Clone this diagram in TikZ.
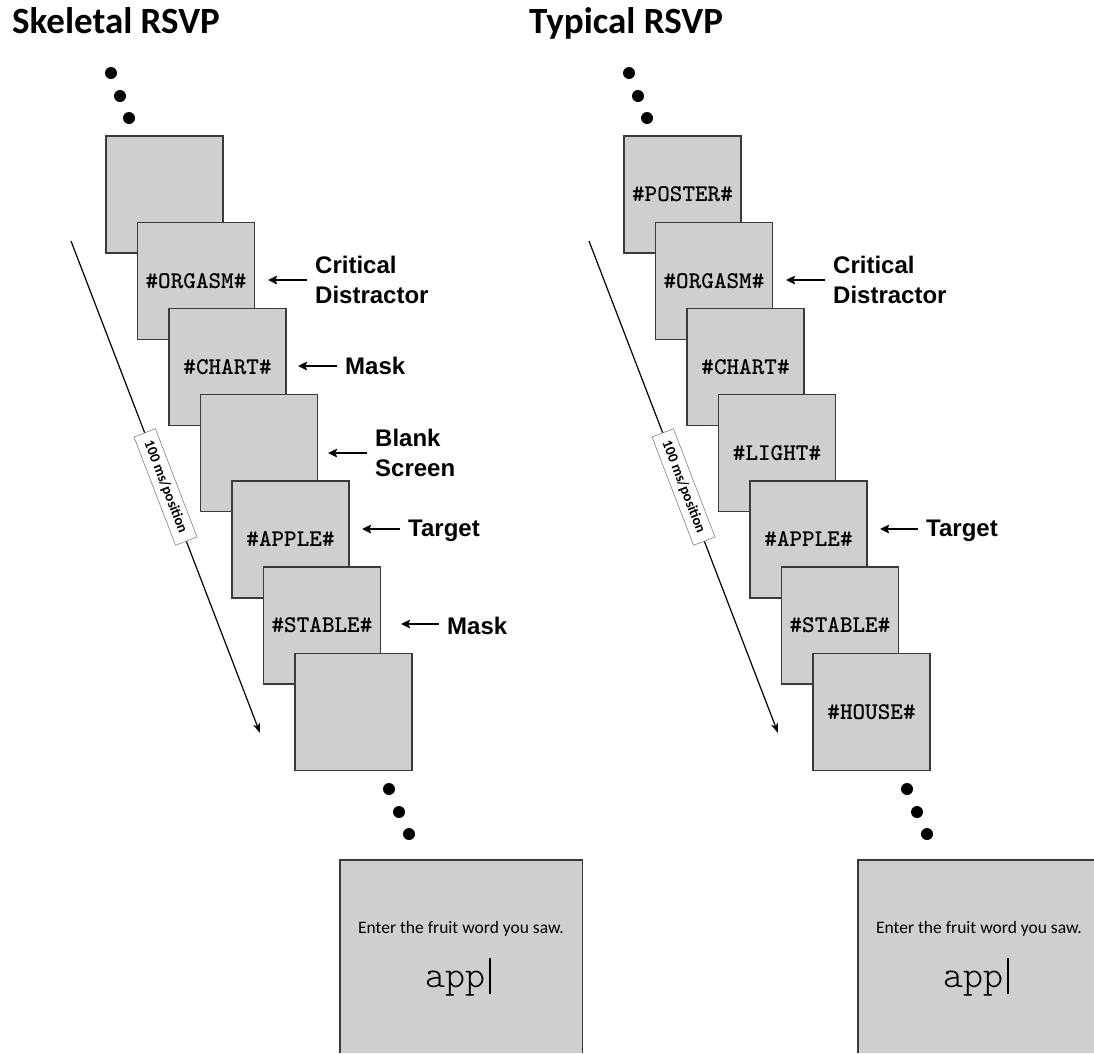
\documentclass[tikz,border=0pt]{standalone}
\usepackage{fontspec}
\setmainfont{Carlito}
\newfontfamily\labelfont{Liberation Sans}
\usetikzlibrary{arrows.meta}
\definecolor{screen}{HTML}{D0CECE}
\definecolor{edge}{HTML}{3A3A3A}

\begin{document}
\begin{tikzpicture}[x=1pt,y=-1pt,
  frame/.style={draw=edge, line width=1.4pt, fill=screen, minimum size=117pt,
    inner sep=0pt, font=\ttfamily\bfseries\fontsize{24}{24}\selectfont},
  cue/.style={anchor=west, inner sep=0pt, align=left,
    font=\labelfont\bfseries\fontsize{24}{29.5}\selectfont},
  ptr/.style={line width=2.2pt, -{Stealth[length=9pt,width=8.5pt,inset=1.5pt]}},
  dot/.style={circle, fill=black, minimum size=12pt, inner sep=0pt},
  timeline/.style={line width=1.2pt, -{Stealth[length=10pt,width=7pt,inset=3pt]}},
  timelbl/.style={draw=gray, line width=0.6pt, fill=white, minimum width=116pt,
    minimum height=23pt, inner sep=0pt, font=\bfseries\fontsize{14.5}{15}\selectfont},
  title/.style={anchor=base west, inner sep=0pt, font=\bfseries\fontsize{37}{42}\selectfont},
  response/.style={fill=screen, inner sep=0pt, anchor=north west, minimum height=193pt},
  rim/.style={draw=edge, line width=1.4pt},
  ask/.style={anchor=base, inner sep=0pt, font=\fontsize{17.5}{20}\selectfont},
  typed/.style={anchor=base west, inner sep=0pt, font=\ttfamily\fontseries{l}\fontsize{38}{38}\selectfont},
]
\useasboundingbox (0,0) rectangle (1094,1053);

% titles
\node[title] (ttlL) at (12,33) {Skeletal RSVP};
\node[title] (ttlR) at (529,33) {Typical RSVP};

% ellipsis dots above and below each stream
\foreach \k/\px/\py in {1/111/73,2/120/96,3/129/118,4/389/789,5/399/812,6/409/834}{
  \node[dot] (dL\k) at (\px,\py) {};
  \node[dot] (dR\k) at (\px+518,\py) {};
}

% time axes
\coordinate (tL0) at (71,241);
\coordinate (tL1) at (260,733);
\coordinate (tR0) at (589,241);
\coordinate (tR1) at (778,733);
\draw[timeline] (tL0) -- node[timelbl, sloped] (tlL) {100 ms/position} (tL1);
\draw[timeline] (tR0) -- node[timelbl, sloped] (tlR) {100 ms/position} (tR1);

% skeletal stream
\foreach \i/\w in {0/{},1/{\#ORGASM\#},2/{\#CHART\#},3/{},4/{\#APPLE\#},5/{\#STABLE\#},6/{}}
  \node[frame] (L\i) at ({164.5+31.5*\i},{194.5+86.2*\i}) {\w};

% typical stream
\foreach \i/\w in {0/{\#POSTER\#},1/{\#ORGASM\#},2/{\#CHART\#},3/{\#LIGHT\#},4/{\#APPLE\#},5/{\#STABLE\#},6/{\#HOUSE\#}}
  \node[frame] (R\i) at ({682.5+31.5*\i},{194.5+86.2*\i}) {\w};

% item labels with pointers
\node[cue] (cdL) at (315,280) {Critical\\Distractor};
\node[cue] (mkL) at (345,366) {Mask};
\node[cue] (bsL) at (375,453) {Blank\\Screen};
\node[cue] (tgL) at (408,531) {Target};
\node[cue] (mmL) at (447,626) {Mask};
\node[cue] (cdR) at (833,280) {Critical\\Distractor};
\node[cue] (tgR) at (926,531) {Target};
\foreach \n in {cdL,mkL,bsL,cdR}
  \draw[ptr] ([xshift=-8pt]\n.west) -- ++(-39,0);
\foreach \n in {tgL,mmL,tgR}
  \draw[ptr] ([xshift=-8pt,yshift=2pt]\n.west) -- ++(-38,0);

% response screens
\node[response, minimum width=242pt] (respL) at (340,860) {};
\draw[rim] (respL.south west) -- (respL.north west) -- (respL.north east) -- (respL.south east);
\node[ask] (askL) at ([shift={(121,73)}]respL.north west) {Enter the fruit word you saw.};
\node[typed] (typL) at ([shift={(85,127)}]respL.north west) {app\hspace{4pt}\rule[-7pt]{2pt}{36pt}};

\node[response, minimum width=236pt] (respR) at (858,860) {};
\draw[rim] (respR.south west) -- (respR.north west) -- (respR.north east);
\node[ask] (askR) at ([shift={(121,73)}]respR.north west) {Enter the fruit word you saw.};
\node[typed] (typR) at ([shift={(85,127)}]respR.north west) {app\hspace{4pt}\rule[-7pt]{2pt}{36pt}};
\end{tikzpicture}
\end{document}
